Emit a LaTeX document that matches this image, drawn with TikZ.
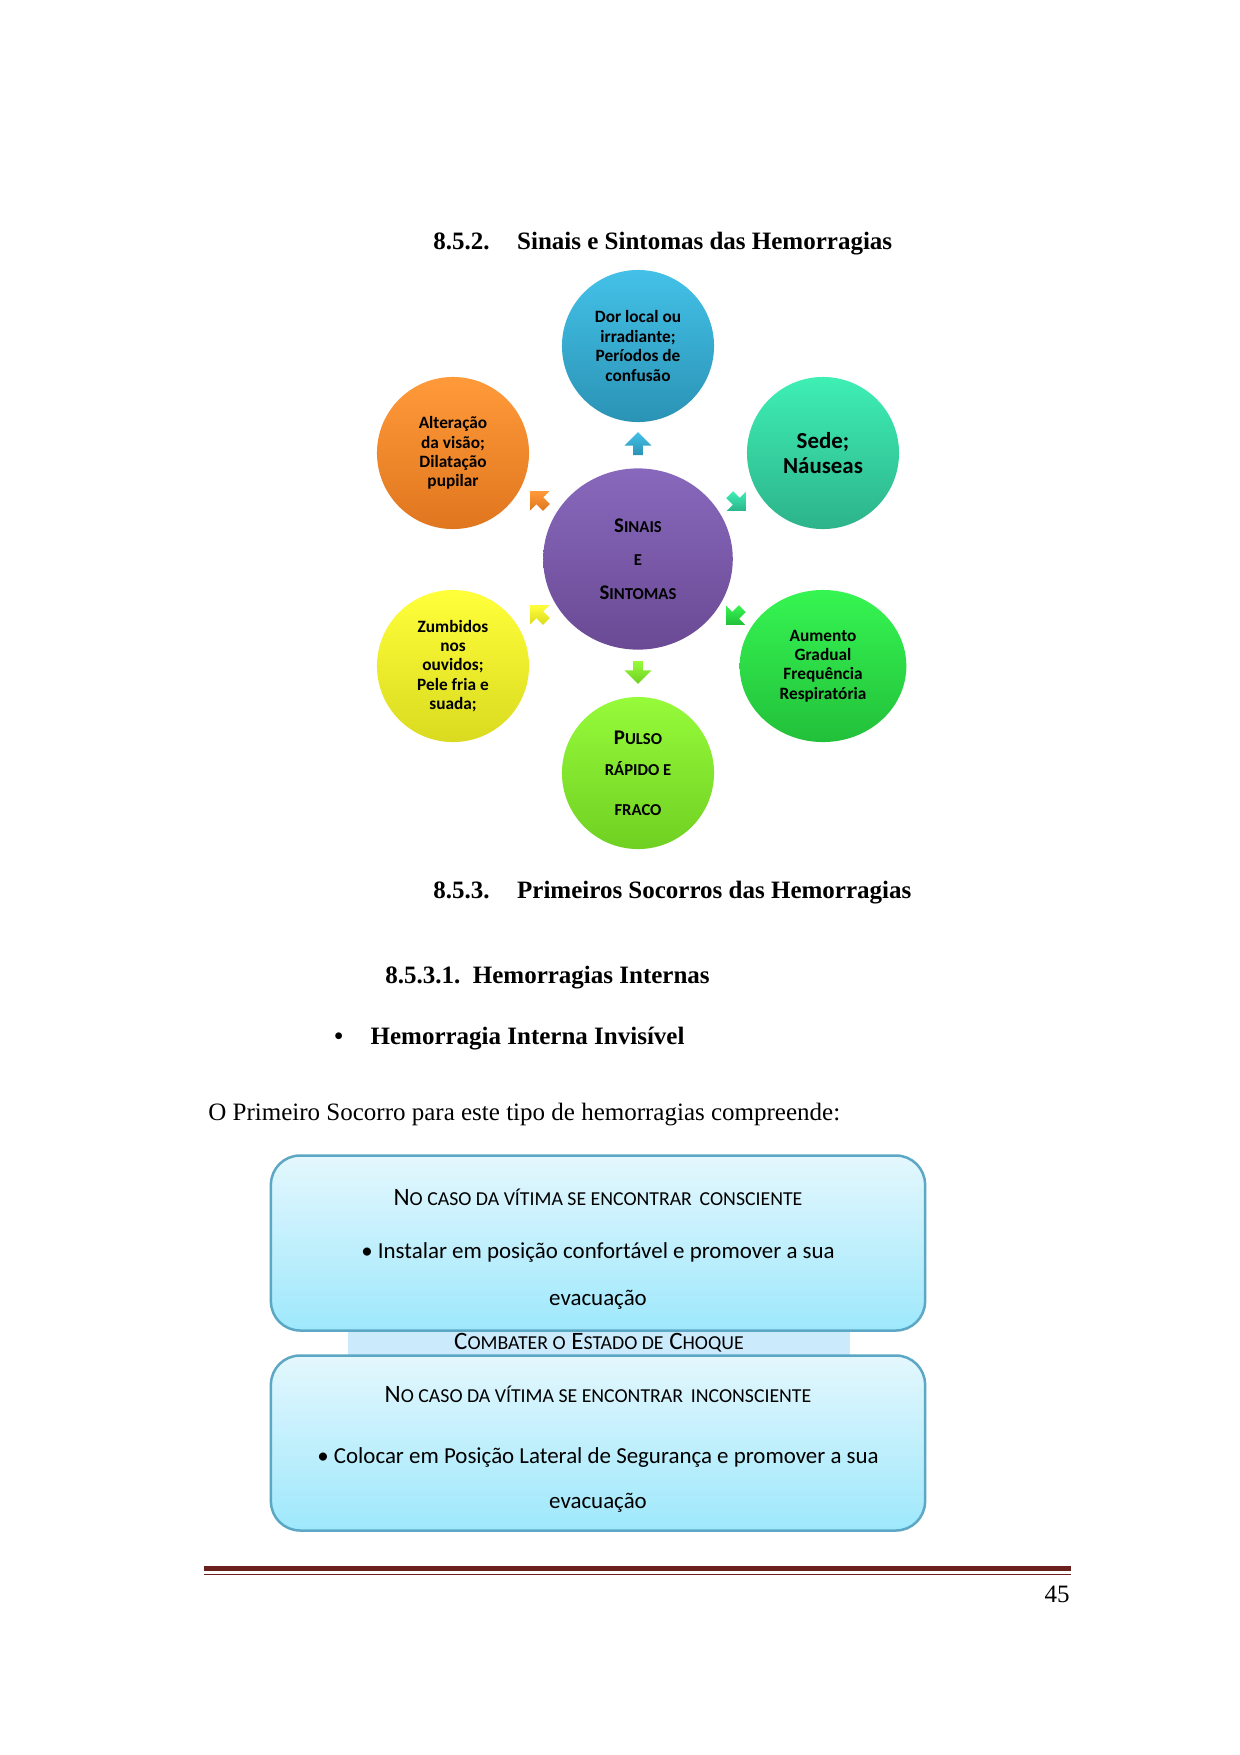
\documentclass[tikz,border=0pt]{standalone}
\usepackage{fontspec}
\setmainfont{Liberation Serif}
\newfontfamily\calfont{Carlito}
\usetikzlibrary{shapes.arrows,shapes.geometric}
\newcommand{\smc}[2]{{\fontsize{#1}{#1}\selectfont #2}}
\definecolor{cTop1}{HTML}{44C1E8}\definecolor{cTop2}{HTML}{2A93B5}
\definecolor{cSe1}{HTML}{3EEFB4}\definecolor{cSe2}{HTML}{2DB38A}
\definecolor{cAu1}{HTML}{36F552}\definecolor{cAu2}{HTML}{22C03A}
\definecolor{cPu1}{HTML}{96FB3A}\definecolor{cPu2}{HTML}{70D022}
\definecolor{cZu1}{HTML}{FFFF3A}\definecolor{cZu2}{HTML}{DADA20}
\definecolor{cAl1}{HTML}{FF9A3A}\definecolor{cAl2}{HTML}{E0761E}
\definecolor{cCe1}{HTML}{8868BC}\definecolor{cCe2}{HTML}{6A4A94}
\definecolor{bx1}{HTML}{E4F7FD}\definecolor{bx2}{HTML}{9EE8FC}
\definecolor{bxd}{HTML}{5BA7C4}\definecolor{band}{HTML}{CBEBFD}
\definecolor{rulec}{HTML}{6B2020}
\tikzset{
 circ/.style 2 args={ellipse,minimum width=73pt,minimum height=73pt,align=center,top color=#1,bottom color=#2,font=\calfont\bfseries\fontsize{8.3}{9.3}\selectfont,inner sep=0pt},
 sarr/.style 2 args={single arrow,single arrow head extend=3pt,minimum height=11pt,minimum width=13pt,inner sep=1.5pt,top color=#1,bottom color=#2},
 head/.style={font=\bfseries\fontsize{12}{14}\selectfont,anchor=west,inner sep=0pt},
 boxs/.style={draw=bxd,line width=1.2pt,rounded corners=14pt,top color=bx1,bottom color=bx2},
 btxt/.style={font=\calfont\fontsize{11}{13}\selectfont,inner sep=0pt}
}
\begin{document}
\begin{tikzpicture}[x=0.48pt,y=-0.48pt]
\useasboundingbox[fill=white] (0,0) rectangle (1240,1755);
\node[head] (h1) at (433,244) {8.5.2.\hspace{1.1em}Sinais e Sintomas das Hemorragias};
% arrows
\node[sarr={cTop1}{cTop2},rotate=90] (a1) at (638,446) {};
\node[sarr={cSe1}{cSe2},rotate=-45] (a2) at (736,501) {};
\node[sarr={cAu1}{cAu2},rotate=-135] (a3) at (736,615) {};
\node[sarr={cPu1}{cPu2},rotate=-90] (a4) at (638,670) {};
\node[sarr={cZu1}{cZu2},rotate=-135+270] (a5) at (540,615) {};
\node[sarr={cAl1}{cAl2},rotate=135] (a6) at (540,501) {};
\node[circ={cCe1}{cCe2},minimum width=91pt,minimum height=87pt,font=\calfont\bfseries\fontsize{10}{14}\selectfont] (c) at (638,559) {S\smc{8}{INAIS}\\[2pt]\smc{8}{E}\\[2pt]S\smc{8}{INTOMAS}};
\node[circ={cTop1}{cTop2}] (n1) at (638,346) {Dor local ou\\irradiante;\\Períodos de\\confusão};
\node[circ={cSe1}{cSe2},font=\calfont\bfseries\fontsize{11}{12}\selectfont] (n2) at (823,453) {Sede;\\Náuseas};
\node[circ={cAu1}{cAu2},minimum width=80pt] (n3) at (823,666) {Aumento\\Gradual\\Frequência\\Respiratória};
\node[circ={cPu1}{cPu2},font=\calfont\bfseries\fontsize{10}{14}\selectfont] (n4) at (638,773) {P\smc{8}{ULSO}\\[1pt]\smc{8}{RÁPIDO E}\\[5pt]\smc{8}{FRACO}};
\node[circ={cZu1}{cZu2}] (n5) at (453,666) {Zumbidos\\nos\\ouvidos;\\Pele fria e\\suada;};
\node[circ={cAl1}{cAl2}] (n6) at (453,453) {Alteração\\da visão;\\Dilatação\\pupilar};
% headings
\node[head] (h2) at (433,893) {8.5.3.\hspace{1.1em}Primeiros Socorros das Hemorragias};
\node[head] (h3) at (385,978) {8.5.3.1.\hspace{0.5em}Hemorragias Internas};
\node[head] (h4) at (334,1039) {\textbullet\hspace{1.1em}Hemorragia Interna Invisível};
\node[anchor=west,inner sep=0pt,font=\fontsize{12}{14}\selectfont] (p) at (208,1115) {O Primeiro Socorro para este tipo de hemorragias compreende:};
% boxes
\node[fill=band,minimum width=241pt,minimum height=13pt,inner sep=0pt] (band) at (599,1343) {};
\node[boxs,minimum width=314pt,minimum height=84pt] (b1) at (598,1243) {};
\node[boxs,minimum width=314pt,minimum height=84pt] (b2) at (598,1443) {};
\node[btxt,font=\calfont\fontsize{12}{13}\selectfont] (band t) at (599,1343) {C\smc{9.5}{OMBATER O} E\smc{9.5}{STADO DE} C\smc{9.5}{HOQUE}};
\node[btxt,font=\calfont\fontsize{12}{13}\selectfont] (t1) at (598,1197) {N\smc{9.5}{O CASO DA VÍTIMA SE ENCONTRAR\ \,CONSCIENTE}};
\node[btxt] (t2) at (598,1252) {\textbullet\ Instalar em posição confortável e promover a sua};
\node[btxt] (t3) at (598,1300) {evacuação};
\node[btxt,font=\calfont\fontsize{12}{13}\selectfont] (t4) at (598,1394) {N\smc{9.5}{O CASO DA VÍTIMA SE ENCONTRAR\ \,INCONSCIENTE}};
\node[btxt] (t5) at (598,1457) {\textbullet\ Colocar em Posição Lateral de Segurança e promover a sua};
\node[btxt] (t6) at (598,1503) {evacuação};
% footer
\coordinate (r1) at (204,1568); \coordinate (r2) at (1071,1568);
\coordinate (r3) at (204,1574); \coordinate (r4) at (1071,1574);
\draw[rulec,line width=2.4pt] (r1) -- (r2);
\draw[rulec,line width=0.5pt] (r3) -- (r4);
\node[anchor=east,inner sep=0pt,font=\fontsize{12}{14}\selectfont] (pg) at (1070,1594) {45};
\end{tikzpicture}
\end{document}
